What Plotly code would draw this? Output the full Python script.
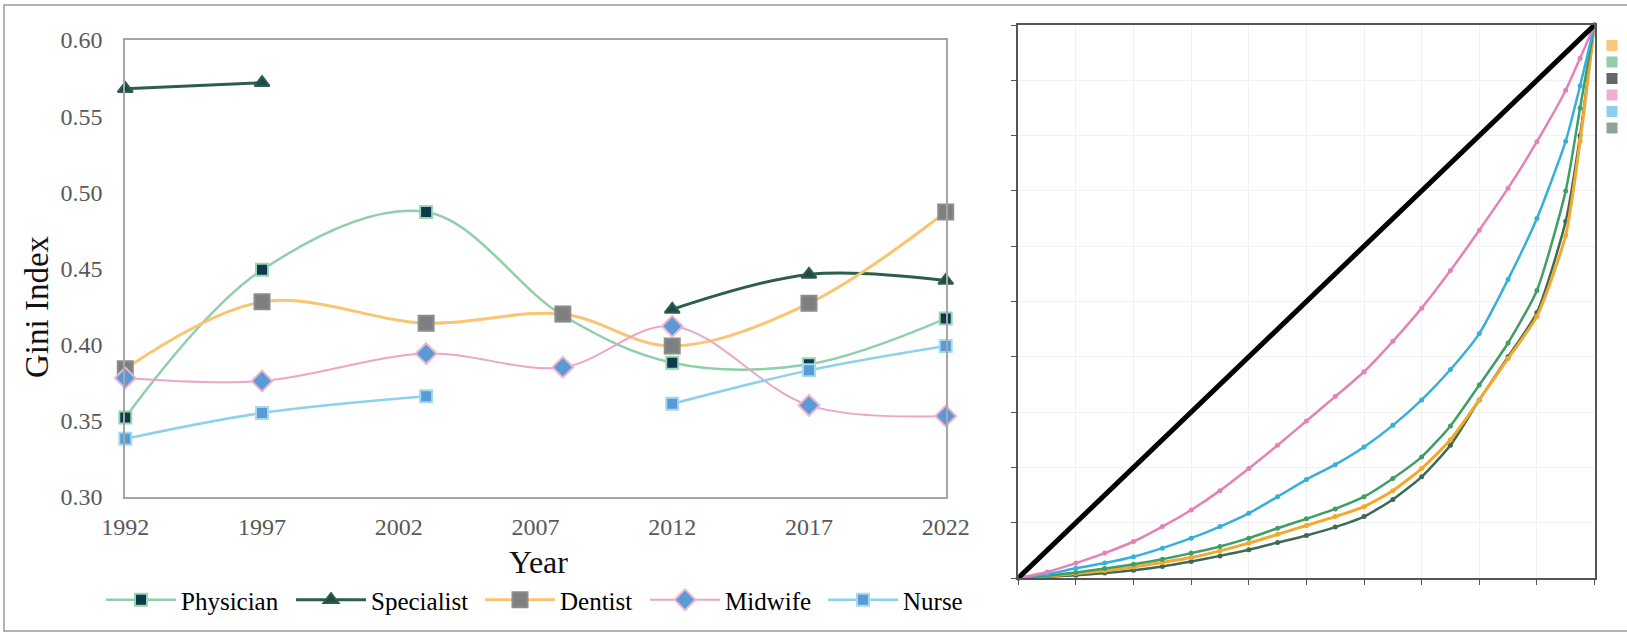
import plotly.graph_objects as go

W, H = 1627, 632

# ---- Gini index by profession (left panel) ----
years = [1992, 1997, 2003, 2008, 2012, 2017, 2022]
year_ticks = [1992, 1997, 2002, 2007, 2012, 2017, 2022]
gini_ticks = [0.30, 0.35, 0.40, 0.45, 0.50, 0.55, 0.60]

physician = [0.352, 0.449, 0.487, 0.419, 0.388, 0.387, 0.417]
specialist = [0.568, 0.572, None, None, 0.423, 0.446, 0.442]
dentist = [0.384, 0.428, 0.414, 0.420, 0.399, 0.427, 0.487]
midwife = [0.378, 0.376, 0.394, 0.385, 0.412, 0.360, 0.353]
nurse = [0.338, 0.355, 0.366, None, 0.361, 0.383, 0.399]

# ---- Lorenz curves (right panel) ----
pop_share = [0, 0.05, 0.1, 0.15, 0.2, 0.25, 0.3, 0.35, 0.4, 0.45, 0.5,
             0.55, 0.6, 0.65, 0.7, 0.75, 0.8, 0.85, 0.9, 0.95, 0.975, 1.0]
lz_midwife = [0, 0.011, 0.027, 0.045, 0.066, 0.093, 0.123, 0.158, 0.198, 0.240, 0.284,
              0.328, 0.373, 0.428, 0.488, 0.556, 0.629, 0.705, 0.789, 0.882, 0.940, 1.0]
lz_nurse = [0, 0.007, 0.0175, 0.027, 0.0385, 0.054, 0.072, 0.093, 0.117, 0.147, 0.178,
            0.205, 0.237, 0.276, 0.322, 0.377, 0.442, 0.540, 0.650, 0.790, 0.890, 1.0]
lz_physician = [0, 0.004, 0.010, 0.017, 0.025, 0.034, 0.045, 0.057, 0.072, 0.090, 0.107,
                0.125, 0.147, 0.180, 0.219, 0.275, 0.349, 0.425, 0.520, 0.700, 0.850, 1.0]
lz_dentist = [0, 0.003, 0.008, 0.013, 0.020, 0.028, 0.037, 0.049, 0.063, 0.079, 0.095,
              0.111, 0.129, 0.158, 0.198, 0.250, 0.322, 0.397, 0.473, 0.620, 0.790, 1.0]
lz_specialist = [0, 0.002, 0.005, 0.009, 0.014, 0.021, 0.030, 0.040, 0.051, 0.064, 0.077,
                 0.092, 0.111, 0.142, 0.183, 0.240, 0.322, 0.400, 0.480, 0.645, 0.800, 1.0]
equality = [0, 1.0]

SERIF = "Liberation Serif"

fig = go.Figure()

def add_gini(name, values, line_color, line_width, symbol, size, fill, edge, legend):
    fig.add_trace(go.Scatter(
        x=years, y=values, name=name, mode="lines+markers",
        line=dict(color=line_color, width=line_width, shape="spline", smoothing=1.0),
        marker=dict(symbol=symbol, size=size, color=fill, line=dict(color=edge, width=2)),
        connectgaps=False, cliponaxis=False, xaxis="x", yaxis="y", legend=legend,
    ))

add_gini("Physician", physician, "#8fcfa9", 2.5, "square", 12, "#0d3a4c", "#9ad6b2", "legend")
add_gini("Specialist", specialist, "#2f5d4c", 3, "triangle-up", 13, "#1d4a4a", "#2f5d4c", "legend2")
add_gini("Dentist", dentist, "#f8c572", 3, "square", 15, "#7f7f7f", "#8c8c8c", "legend3")
add_gini("Midwife", midwife, "#eba6c9", 2, "diamond", 16, "#5b9bd5", "#f0b3d3", "legend4")
add_gini("Nurse", nurse, "#8fd0ea", 2.5, "square", 12, "#5b9bd5", "#a3daf0", "legend5")

def add_lorenz(values, color, width):
    fig.add_trace(go.Scatter(
        x=pop_share, y=values, mode="lines+markers", showlegend=False,
        line=dict(color=color, width=width, shape="spline", smoothing=0.6),
        marker=dict(size=5, color=color),
        cliponaxis=False, xaxis="x2", yaxis="y2",
    ))

add_lorenz(lz_specialist, "#3d6a54", 2.5)
add_lorenz(lz_dentist, "#f3a82e", 3)
add_lorenz(lz_physician, "#3f9e66", 2.5)
add_lorenz(lz_nurse, "#36afdb", 2.5)
add_lorenz(lz_midwife, "#e482b7", 2.5)
fig.add_trace(go.Scatter(
    x=equality, y=equality, mode="lines", showlegend=False,
    line=dict(color="#000000", width=5), cliponaxis=False, xaxis="x2", yaxis="y2",
))

def px_x(v):
    return v / W

def px_y(v):
    return 1 - v / H

# colour key of the Lorenz panel: one small legend per swatch
key_colors = ["#fcc778", "#93cdab", "#666666", "#efb0d2", "#8dcfea", "#8aa597"]
key_y = [45.5, 62, 78.5, 95, 111.5, 128]
legends = {}
for i, (c, ky) in enumerate(zip(key_colors, key_y)):
    lname = f"legend{6 + i}"
    fig.add_trace(go.Scatter(
        x=[None], y=[None], mode="markers", name="",
        marker=dict(symbol="square", size=11, color=c),
        xaxis="x2", yaxis="y2", legend=lname,
    ))
    legends[lname] = dict(
        x=px_x(1592), y=px_y(ky), xanchor="left", yanchor="middle",
        orientation="v", font=dict(family=SERIF, size=11, color="#333"),
        bgcolor="rgba(0,0,0,0)", borderwidth=0, itemwidth=30,
    )

legend_font = dict(family=SERIF, size=25, color="#000000")
legend_text_x = [183, 373, 562, 727, 905]
legend_names = ["legend", "legend2", "legend3", "legend4", "legend5"]
for nm, tx in zip(legend_names, legend_text_x):
    legends[nm] = dict(
        x=px_x(tx - 82), y=px_y(600), xanchor="left", yanchor="middle",
        orientation="h", font=legend_font, bgcolor="rgba(0,0,0,0)", borderwidth=0,
        itemwidth=70,
    )

fig.update_layout(
    width=W, height=H,
    margin=dict(l=0, r=0, t=0, b=0, pad=0, autoexpand=False),
    paper_bgcolor="white", plot_bgcolor="white",
    font=dict(family=SERIF, color="#000000"),
    showlegend=True,
    xaxis=dict(
        domain=[px_x(125.3), px_x(945.7)], range=[1992, 2022],
        tickvals=year_ticks, ticktext=[str(y) for y in year_ticks],
        tickfont=dict(family=SERIF, size=24, color="#595959"),
        showgrid=False, zeroline=False, showline=True, linecolor="#a6a6a6",
        linewidth=2, mirror=True, ticks="", ticklabelstandoff=7, anchor="y",
        automargin=False,
    ),
    yaxis=dict(
        domain=[px_y(496.7), px_y(40)], range=[0.30, 0.60],
        tickvals=gini_ticks, ticktext=[f"{v:.2f}" for v in gini_ticks],
        tickfont=dict(family=SERIF, size=24, color="#595959"),
        showgrid=False, zeroline=False, showline=True, linecolor="#a6a6a6",
        linewidth=2, mirror=True, ticks="", ticklabelstandoff=16, anchor="x",
        automargin=False,
    ),
    xaxis2=dict(
        domain=[px_x(1018.3), px_x(1594.5)], range=[0, 1], dtick=0.1, tick0=0,
        showticklabels=False, ticks="outside", ticklen=5, tickcolor="#555",
        showgrid=True, gridcolor="#f1f1f1", gridwidth=1, zeroline=False,
        showline=True, linecolor="#555555", linewidth=2, mirror=True, anchor="y2",
        automargin=False,
    ),
    yaxis2=dict(
        domain=[px_y(578), px_y(25)], range=[0, 1], dtick=0.1, tick0=0,
        showticklabels=False, ticks="outside", ticklen=5, tickcolor="#555",
        showgrid=True, gridcolor="#f1f1f1", gridwidth=1, zeroline=False,
        showline=True, linecolor="#555555", linewidth=2, mirror=True, anchor="x2",
        automargin=False,
    ),
    annotations=[
        dict(text="Gini Index", x=px_x(37), y=px_y(307), xref="paper", yref="paper",
             xanchor="center", yanchor="middle",
             showarrow=False, textangle=-90, font=dict(family=SERIF, size=33, color="#111")),
        dict(text="Year", x=px_x(538.7), y=px_y(562), xref="paper", yref="paper",
             xanchor="center", yanchor="middle",
             showarrow=False, font=dict(family=SERIF, size=32, color="#111")),
    ],
    shapes=[
        dict(type="rect", xref="paper", yref="paper", x0=px_x(4), x1=1.01,
             y0=px_y(631), y1=px_y(5), line=dict(color="#9a9a9a", width=1.5)),
    ],
    **legends,
)

fig.write_html("out.html")
